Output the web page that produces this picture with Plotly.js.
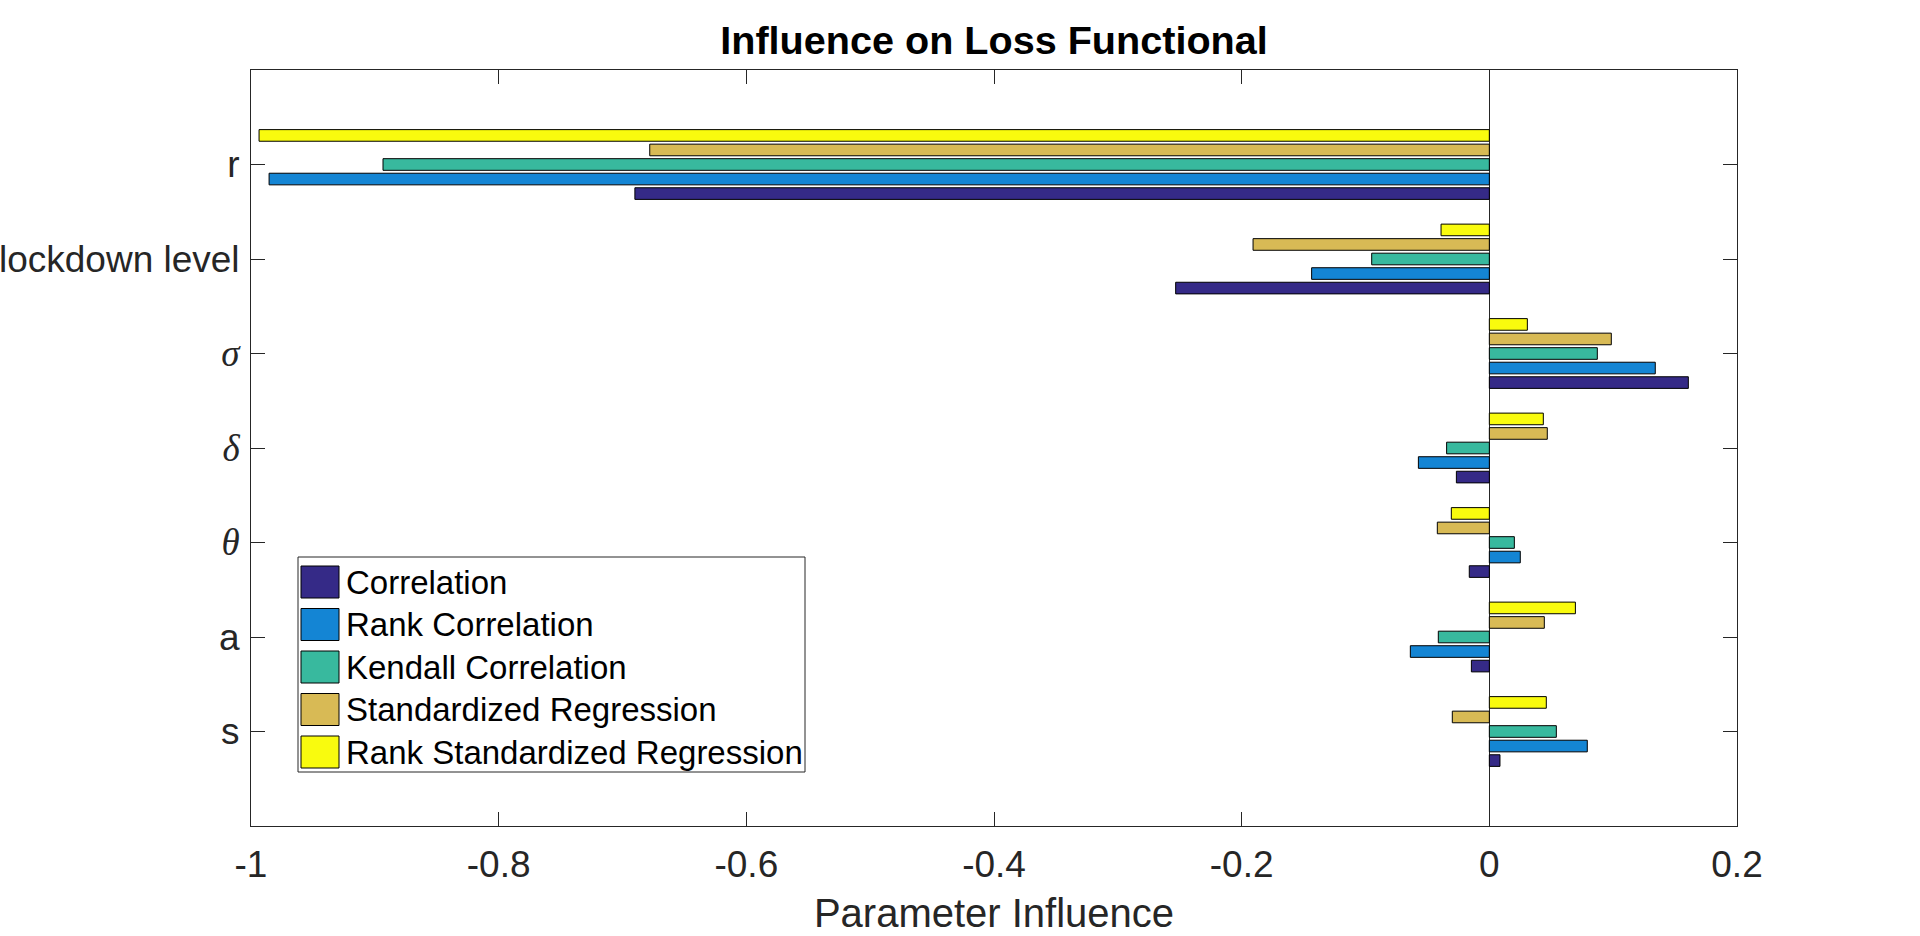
<!DOCTYPE html>
<html>
<head>
<meta charset="utf-8">
<script src="https://cdn.plot.ly/plotly-3.0.1.min.js"></script>
<style>
html,body{margin:0;padding:0;background:#fff;}
#chart{width:1920px;height:936px;}
</style>
</head>
<body>
<div id="chart"></div>
<script>
// Categories, bottom (y=1) to top (y=7)
const categories = ['s', 'a', 'θ', 'δ', 'σ', 'lockdown level', 'r'];
const tickLabels = [
  's',
  'a',
  '<span style="font-family:Liberation Serif;font-style:italic">θ</span>',
  '<span style="font-family:Liberation Serif;font-style:italic">δ</span>',
  '<span style="font-family:Liberation Serif;font-style:italic">σ</span>',
  'lockdown level',
  'r'
];
const categoryPositions = [1, 2, 3, 4, 5, 6, 7];

const seriesNames = ['Correlation', 'Rank Correlation', 'Kendall Correlation', 'Standardized Regression', 'Rank Standardized Regression'];
const seriesColors = ['#352A87', '#1485D4', '#38B99E', '#D8BA55', '#F9FB0E'];

const correlation        = [0.0086, -0.0145, -0.0162, -0.0266, 0.1607, -0.2533, -0.6900];
const rankCorrelation    = [0.0791, -0.0638,  0.0250, -0.0573, 0.1340, -0.1435, -0.9854];
const kendallCorrelation = [0.0541, -0.0412,  0.0202, -0.0345, 0.0872, -0.0950, -0.8934];
const standardizedReg    = [-0.0299, 0.0444, -0.0420,  0.0468, 0.0985, -0.1908, -0.6780];
const rankStandardizedReg= [0.0460,  0.0695, -0.0307,  0.0436, 0.0307, -0.0390, -0.9935];

const seriesValues = [correlation, rankCorrelation, kendallCorrelation, standardizedReg, rankStandardizedReg];

const xTickVals = [-1, -0.8, -0.6, -0.4, -0.2, 0, 0.2];
const xTickText = ['-1', '-0.8', '-0.6', '-0.4', '-0.2', '0', '0.2'];

const FONT = 'Liberation Sans, Arial, Helvetica, sans-serif';
const AXC = '#262626';

// Plot area in pixels (for legend placement in paper coordinates)
const PL = 251, PR = 1737, PT = 70, PB = 826;
const px2x = p => (p - PL) / (PR - PL);
const px2y = p => (PB - p) / (PB - PT);

const traces = seriesValues.map((vals, i) => ({
  type: 'bar',
  orientation: 'h',
  name: seriesNames[i],
  x: vals,
  y: categoryPositions,
  marker: {color: seriesColors[i], line: {color: '#000000', width: 1}},
  hoverinfo: 'x+name',
  showlegend: false
}));

// Custom legend box (MATLAB style, large swatches)
const legBox = {x0: 298, x1: 805, y0: 557, y1: 772};
const rowTop = 566, rowStep = 42.5, swH = 32, swX0 = 301, swX1 = 339, textX = 344;

const shapes = [{
  type: 'rect', xref: 'paper', yref: 'paper', layer: 'above',
  x0: px2x(legBox.x0), x1: px2x(legBox.x1), y0: px2y(legBox.y1), y1: px2y(legBox.y0),
  fillcolor: '#ffffff', line: {color: AXC, width: 1}
}];
const annotations = [];
seriesNames.forEach((name, i) => {
  const top = rowTop + i * rowStep;
  shapes.push({
    type: 'rect', xref: 'paper', yref: 'paper', layer: 'above',
    x0: px2x(swX0), x1: px2x(swX1), y0: px2y(top + swH), y1: px2y(top),
    fillcolor: seriesColors[i], line: {color: '#000000', width: 1}
  });
  annotations.push({
    xref: 'paper', yref: 'paper', x: px2x(textX), y: px2y(top + swH / 2),
    xanchor: 'left', yanchor: 'middle', showarrow: false,
    text: name, font: {family: FONT, size: 33, color: '#000000'}
  });
});

const layout = {
  width: 1920,
  height: 936,
  margin: {l: PL, r: 1920 - PR, t: PT, b: 936 - PB, pad: 0},
  paper_bgcolor: '#ffffff',
  plot_bgcolor: '#ffffff',
  barmode: 'group',
  bargap: 0.2308,
  bargroupgap: 0.2,
  font: {family: FONT, color: AXC, size: 37},
  title: {
    text: '<b>Influence on Loss Functional</b>',
    font: {family: FONT, size: 39.6, color: '#000000'},
    x: 994 / 1920, xanchor: 'center', xref: 'container',
    y: 1 - 40 / 936, yanchor: 'middle', yref: 'container'
  },
  xaxis: {
    range: [-1, 0.2],
    tickvals: xTickVals,
    ticktext: xTickText,
    ticks: 'inside',
    ticklen: 14,
    tickwidth: 1,
    tickcolor: AXC,
    showline: true,
    linecolor: AXC,
    linewidth: 1,
    mirror: 'ticks',
    showgrid: false,
    zeroline: true,
    zerolinecolor: AXC,
    zerolinewidth: 1,
    ticklabelstandoff: 6,
    tickfont: {family: FONT, size: 37, color: AXC},
    title: {text: 'Parameter Influence', font: {family: FONT, size: 40, color: AXC}, standoff: 14},
    fixedrange: true
  },
  yaxis: {
    range: [0, 8],
    tickvals: categoryPositions,
    ticktext: tickLabels,
    ticks: 'inside',
    ticklen: 14,
    tickwidth: 1,
    tickcolor: AXC,
    showline: true,
    linecolor: AXC,
    linewidth: 1,
    mirror: 'ticks',
    showgrid: false,
    zeroline: false,
    ticklabelstandoff: 3,
    tickfont: {family: FONT, size: 37, color: AXC},
    fixedrange: true
  },
  showlegend: false,
  shapes: shapes,
  annotations: annotations
};

Plotly.newPlot('chart', traces, layout, {displayModeBar: false, staticPlot: true});
</script>
</body>
</html>
